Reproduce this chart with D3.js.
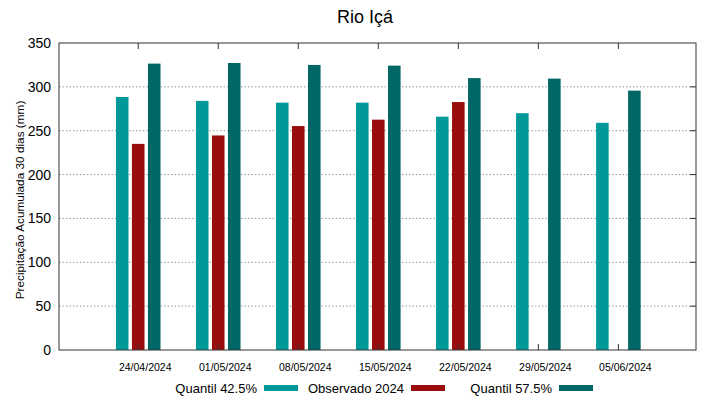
<!DOCTYPE html>
<html>
<head>
<meta charset="utf-8">
<script src="https://cdn.jsdelivr.net/npm/d3@7"></script>
<style>
  body { margin: 0; background: #fff; }
  text { font-family: "Liberation Sans", Arial, sans-serif; }
</style>
</head>
<body>
<svg id="chart" width="719" height="399"></svg>
<script>
// data
const dates = ["24/04/2024", "01/05/2024", "08/05/2024", "15/05/2024", "22/05/2024", "29/05/2024", "05/06/2024"];
const q425 = [288.5, 284, 282, 282, 266, 270, 259];
const observado = [235, 244.6, 255.3, 262.6, 282.7, null, null];
const q575 = [326.5, 327.2, 325, 324.2, 310, 309.4, 295.7];
const yTicks = [0, 50, 100, 150, 200, 250, 300, 350];

const series = [
  { name: "Quantil 42.5%", values: q425, color: "#009999", off: -1 },
  { name: "Observado 2024", values: observado, color: "#990d0d", off: 0 },
  { name: "Quantil 57.5%", values: q575, color: "#006666", off: 1 }
];

const svg = d3.select("#chart");
const pL = 59, pR = 696, pT = 43, pB = 350;

const x = d3.scaleLinear().domain([-0.99, 6.97]).range([pL, pR]);
const y = d3.scaleLinear().domain([0, 350]).range([pB, pT]);
const step = 0.2, bw = 0.157;

// grid
svg.append("g").selectAll("line")
  .data(yTicks.filter(d => d > 0 && d < 350))
  .enter().append("line")
    .attr("x1", pL).attr("x2", pR)
    .attr("y1", d => y(d)).attr("y2", d => y(d))
    .attr("stroke", "#999").attr("stroke-width", 1)
    .attr("stroke-dasharray", "1.5,2");

// bars
series.forEach(s => {
  svg.append("g").selectAll("rect")
    .data(s.values.map((v, i) => ({ v, i })).filter(d => d.v != null))
    .enter().append("rect")
      .attr("x", d => x(d.i + s.off * step - bw / 2))
      .attr("width", x(bw) - x(0))
      .attr("y", d => y(d.v))
      .attr("height", d => y(0) - y(d.v))
      .attr("fill", s.color);
});

// frame
svg.append("rect")
  .attr("x", pL).attr("y", pT)
  .attr("width", pR - pL).attr("height", pB - pT)
  .attr("fill", "none").attr("stroke", "#333").attr("stroke-width", 1);

// y axis
const yAxis = d3.axisLeft(y).tickValues(yTicks).tickSize(0).tickPadding(8);
const ya = svg.append("g").attr("transform", `translate(${pL},0)`).call(yAxis);
ya.select(".domain").remove();
ya.selectAll("text").attr("font-size", 14).attr("fill", "#000")
  .style("font-family", '"Liberation Sans", Arial, sans-serif');

// inward ticks (mirrored)
svg.append("g").selectAll("line")
  .data(yTicks.filter(d => d > 0 && d < 350))
  .enter().append("line")
    .attr("x1", pR - 6).attr("x2", pR)
    .attr("y1", d => y(d)).attr("y2", d => y(d))
    .attr("stroke", "#333");
svg.append("g").selectAll("line")
  .data(d3.range(dates.length))
  .enter().append("line")
    .attr("x1", d => x(d)).attr("x2", d => x(d))
    .attr("y1", pB).attr("y2", pB - 6)
    .attr("stroke", "#333");
svg.append("g").selectAll("line")
  .data(d3.range(dates.length))
  .enter().append("line")
    .attr("x1", d => x(d)).attr("x2", d => x(d))
    .attr("y1", pT).attr("y2", pT + 6)
    .attr("stroke", "#333");

// x labels
svg.append("g").selectAll("text")
  .data(dates)
  .enter().append("text")
    .attr("x", (d, i) => x(i) + 7)
    .attr("y", 371)
    .attr("text-anchor", "middle")
    .attr("font-size", 10.5)
    .attr("fill", "#000")
    .text(d => d);

// titles
svg.append("text")
  .attr("x", 365).attr("y", 23)
  .attr("text-anchor", "middle")
  .attr("font-size", 18)
  .text("Rio Içá");

svg.append("text")
  .attr("transform", "translate(24,200) rotate(-90)")
  .attr("text-anchor", "middle")
  .attr("font-size", 11.8)
  .text("Precipitação Acumulada 30 dias (mm)");

// legend
const legendX = [257, 404, 552];
series.forEach((s, i) => {
  svg.append("text")
    .attr("x", legendX[i]).attr("y", 393)
    .attr("text-anchor", "end")
    .attr("font-size", 13)
    .text(s.name);
  svg.append("rect")
    .attr("x", legendX[i] + 7).attr("y", 385)
    .attr("width", 34).attr("height", 6)
    .attr("fill", s.color);
});
</script>
</body>
</html>
